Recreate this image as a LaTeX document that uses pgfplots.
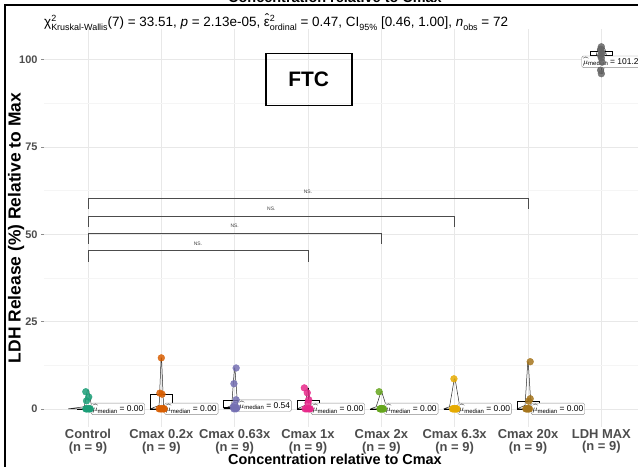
\documentclass[border=0pt]{standalone}
\usepackage{fontspec}
\setmainfont{Liberation Sans}
\usepackage{pgfplots}
\pgfplotsset{compat=1.18}
\definecolor{c1}{HTML}{1B9E77}
\definecolor{c2}{HTML}{D95F02}
\definecolor{c3}{HTML}{7570B3}
\definecolor{c4}{HTML}{E7298A}
\definecolor{c5}{HTML}{66A61E}
\definecolor{c6}{HTML}{E6AB02}
\definecolor{c7}{HTML}{A6761D}
\definecolor{c8}{HTML}{666666}
\definecolor{tickgray}{HTML}{4D4D4D}
\newcommand{\supsub}[2]{\makebox[0pt][l]{\raisebox{0.8ex}{\fontsize{9}{9}\selectfont #1}}\raisebox{-0.45ex}{\fontsize{9}{9}\selectfont #2}}
\newcommand{\sub}[1]{\raisebox{-0.45ex}{\fontsize{9}{9}\selectfont #1}}
\newcommand{\hateps}{\ooalign{ε\cr\hidewidth\raisebox{0.45ex}{ˆ}\hidewidth\cr}}
\newcommand{\mulab}[1]{$\widehat{\mu}$\raisebox{-0.3ex}{\fontsize{6}{6}\selectfont median} = #1}
\begin{document}
\begin{tikzpicture}[x=1bp,y=1bp]
\useasboundingbox (0,0) rectangle (638,467);
\begin{axis}[at={(44bp,40bp)}, anchor=south west, scale only axis,
  width=594bp, height=398bp,
  xmin=0.4, xmax=8.5, ymin=-5.2, ymax=108.8,
  clip=false,
  axis line style={draw=none},
  xtick={1,2,3,4,5,6,7,8},
  xticklabels={{Control\\(n = 9)},{Cmax 0.2x\\(n = 9)},{Cmax 0.63x\\(n = 9)},{Cmax 1x\\(n = 9)},{Cmax 2x\\(n = 9)},{Cmax 6.3x\\(n = 9)},{Cmax 20x\\(n = 9)},{LDH MAX\\(n = 9)}},
  xticklabel style={align=center, font=\bfseries\fontsize{13}{12.5}\selectfont, text=tickgray, yshift=4bp},
  ytick={0,25,50,75,100},
  minor ytick={12.5,37.5,62.5,87.5},
  yticklabel style={font=\bfseries\fontsize{11}{11}\selectfont, text=tickgray},
  /pgf/number format/assume math mode=true,
  xmajorgrids=true, ymajorgrids=true, yminorgrids=true,
  major grid style={draw=black!9, line width=0.6bp},
  minor grid style={draw=black!4, line width=0.5bp},
  tick align=outside,
  xtick style={draw=none},
  ytick style={draw=black!45, line width=0.5bp},
  major tick length=3bp, minor tick length=0bp,
]
% significance brackets
\addplot[black!70, line width=0.5bp] coordinates {(1,42.2) (1,45.3) (4,45.3) (4,42.2)};
\addplot[black!70, line width=0.5bp] coordinates {(1,47.3) (1,50.4) (5,50.4) (5,47.3)};
\addplot[black!70, line width=0.5bp] coordinates {(1,52.2) (1,55.3) (6,55.3) (6,52.2)};
\addplot[black!70, line width=0.5bp] coordinates {(1,57.1) (1,60.2) (7,60.2) (7,57.1)};
\node[font=\fontsize{5}{5}\selectfont, text=black!75] at (axis cs:2.5,47.4) {NS.};
\node[font=\fontsize{5}{5}\selectfont, text=black!75] at (axis cs:3.0,52.5) {NS.};
\node[font=\fontsize{5}{5}\selectfont, text=black!75] at (axis cs:3.5,57.4) {NS.};
\node[font=\fontsize{5}{5}\selectfont, text=black!75] at (axis cs:4.0,62.3) {NS.};
% points
\addplot[only marks, mark=*, mark size=3.4bp, mark options={fill=c1, draw=c1, fill opacity=0.85, draw opacity=0.85}] coordinates {(0.97,0) (1.02,0) (0.99,0) (1.03,0) (0.98,0) (1.01,0) (0.98,2.3) (1.01,3.4) (0.97,4.9)};
\addplot[only marks, mark=*, mark size=3.4bp, mark options={fill=c2, draw=c2, fill opacity=0.85, draw opacity=0.85}] coordinates {(2.0,14.6) (1.98,4.5) (2.01,4.2) (2.03,0) (1.99,0) (2.02,0) (1.97,0) (2.0,0) (2.04,0)};
\addplot[only marks, mark=*, mark size=3.4bp, mark options={fill=c3, draw=c3, fill opacity=0.85, draw opacity=0.85}] coordinates {(3.02,11.7) (2.99,7.2) (3.02,2.6) (3.0,1.0) (2.98,0.54) (3.03,0.3) (3.01,0.1) (2.99,0) (3.02,0)};
\addplot[only marks, mark=*, mark size=3.4bp, mark options={fill=c4, draw=c4, fill opacity=0.85, draw opacity=0.85}] coordinates {(3.95,6.0) (3.99,4.6) (4.01,2.6) (4.0,1.7) (3.96,0) (4.02,0) (3.98,0) (4.03,0) (4.0,0)};
\addplot[only marks, mark=*, mark size=3.4bp, mark options={fill=c5, draw=c5, fill opacity=0.85, draw opacity=0.85}] coordinates {(4.97,4.9) (5.02,0) (4.99,0) (5.03,0) (4.98,0) (5.01,0) (5.0,0) (5.02,0) (4.99,0)};
\addplot[only marks, mark=*, mark size=3.4bp, mark options={fill=c6, draw=c6, fill opacity=0.85, draw opacity=0.85}] coordinates {(5.99,8.6) (6.02,0) (5.98,0) (6.01,0) (6.03,0) (5.99,0) (6.0,0) (6.02,0) (5.97,0)};
\addplot[only marks, mark=*, mark size=3.4bp, mark options={fill=c7, draw=c7, fill opacity=0.85, draw opacity=0.85}] coordinates {(7.03,13.5) (7.03,2.9) (7.01,2.2) (6.98,0) (7.02,0) (6.97,0) (7.0,0) (7.01,0) (6.99,0)};
\addplot[only marks, mark=*, mark size=3.4bp, mark options={fill=c8, draw=c8, fill opacity=0.85, draw opacity=0.85}] coordinates {(8.0,96.0) (7.99,97.0) (8.01,99.3) (8.0,100.5) (7.99,101.2) (8.01,101.8) (8.0,102.4) (7.99,103.0) (8.0,103.7)};
% violins (outline)
\addplot[black!85, line width=0.5bp] coordinates {(0.73,0) (0.95,0.6) (0.99,5.2) (1.01,5.2) (1.05,0.6) (1.27,0) (0.73,0)};
\addplot[black!85, line width=0.5bp] coordinates {(1.85,0) (1.97,1) (1.997,14.6) (2.003,14.6) (2.03,1) (2.15,0) (1.85,0)};
\addplot[black!85, line width=0.5bp] coordinates {(2.85,0) (2.96,1) (2.997,11.7) (3.003,11.7) (3.04,1) (3.15,0) (2.85,0)};
\addplot[black!85, line width=0.5bp] coordinates {(3.85,0) (3.96,1) (3.997,6.0) (4.003,6.0) (4.04,1) (4.15,0) (3.85,0)};
\addplot[black!85, line width=0.5bp] coordinates {(4.85,0) (4.93,0.6) (4.995,4.9) (5.005,4.9) (5.07,0.6) (5.15,0) (4.85,0)};
\addplot[black!85, line width=0.5bp] coordinates {(5.85,0) (5.93,0.6) (5.995,8.6) (6.005,8.6) (6.07,0.6) (6.15,0) (5.85,0)};
\addplot[black!85, line width=0.5bp] coordinates {(6.85,0) (6.96,1) (6.997,13.5) (7.003,13.5) (7.04,1) (7.15,0) (6.85,0)};
\addplot[black!85, line width=0.5bp] coordinates {(7.98,96.0) (7.95,99) (7.93,101.2) (7.95,103) (7.98,103.7) (8.02,103.7) (8.05,103) (8.07,101.2) (8.05,99) (8.02,96.0) (7.98,96.0)};
% boxes: (q1, q3) rectangles, median lines, whiskers
\addplot[black, line width=0.5bp] coordinates {(0.85,0) (1.15,0)};
\addplot[black, line width=0.5bp] coordinates {(1.85,0) (2.15,0) (2.15,4.3) (1.85,4.3) (1.85,0)};
\addplot[black, line width=0.5bp] coordinates {(2,4.3) (2,4.5)};
\addplot[black, line width=0.5bp] coordinates {(2.85,0.1) (3.15,0.1) (3.15,2.6) (2.85,2.6) (2.85,0.1)};
\addplot[black, line width=0.9bp] coordinates {(2.85,0.54) (3.15,0.54)};
\addplot[black, line width=0.5bp] coordinates {(3,0) (3,0.1)};
\addplot[black, line width=0.5bp] coordinates {(3.85,0) (4.15,0) (4.15,2.6) (3.85,2.6) (3.85,0)};
\addplot[black, line width=0.5bp] coordinates {(4,2.6) (4,6.0)};
\addplot[black, line width=0.5bp] coordinates {(4.85,0) (5.15,0)};
\addplot[black, line width=0.5bp] coordinates {(5.85,0) (6.15,0)};
\addplot[black, line width=0.5bp] coordinates {(6.85,0) (7.15,0) (7.15,2.2) (6.85,2.2) (6.85,0)};
\addplot[black, line width=0.5bp] coordinates {(7,2.2) (7,2.9)};
\addplot[black, line width=0.5bp] coordinates {(7.85,99.3) (8.15,99.3) (8.15,102.4) (7.85,102.4) (7.85,99.3)};
\addplot[black, line width=0.9bp] coordinates {(7.85,101.2) (8.15,101.2)};
\addplot[black, line width=0.5bp] coordinates {(8,96.0) (8,99.3)};
\addplot[black, line width=0.5bp] coordinates {(8,102.4) (8,103.7)};
% median labels
\tikzset{mlab/.style={draw=black!45, rounded corners=1.5bp, fill=white, anchor=west, inner sep=1.4bp, font=\fontsize{8.5}{9}\selectfont}}
\node[mlab] at (axis cs:1.04,0) {\mulab{0.00}};
\node[mlab] at (axis cs:2.04,0) {\mulab{0.00}};
\node[mlab] at (axis cs:3.04,0.9) {\mulab{0.54}};
\node[mlab] at (axis cs:4.04,0) {\mulab{0.00}};
\node[mlab] at (axis cs:5.04,0) {\mulab{0.00}};
\node[mlab] at (axis cs:6.04,0) {\mulab{0.00}};
\node[mlab] at (axis cs:7.04,0) {\mulab{0.00}};
\node[mlab] at (axis cs:7.73,99.4) {\mulab{101.2}};
% FTC box
\node[draw, line width=1.6bp, minimum width=86bp, minimum height=52bp, font=\bfseries\fontsize{21}{21}\selectfont] at (axis cs:4.01,94.3) {FTC};
\end{axis}
% subtitle
\node[anchor=base west, inner sep=0, font=\fontsize{13.5}{15}\selectfont] at (44,440) {χ\supsub{2}{Kruskal-Wallis}(7) = 33.51, \textit{p} = 2.13e-05, \hateps\supsub{2}{ordinal} = 0.47, CI\sub{95\%} [0.46, 1.00], \textit{n}\sub{obs} = 72};
% axis titles
\node[rotate=90, font=\bfseries\fontsize{17.5}{17.5}\selectfont, inner sep=0] at (16,239) {LDH Release (\%) Relative to Max};
\node[anchor=base, font=\bfseries\fontsize{14.5}{14.5}\selectfont, inner sep=0] at (335,2.5) {Concentration relative to Cmax};
% cropped top title and frame
\node[anchor=base, font=\bfseries\fontsize{14.5}{14.5}\selectfont, inner sep=0] at (335,464) {Concentration relative to Cmax};
\draw[line width=2bp] (5,-2) -- (5,462) -- (645,462);
\end{tikzpicture}
\end{document}
